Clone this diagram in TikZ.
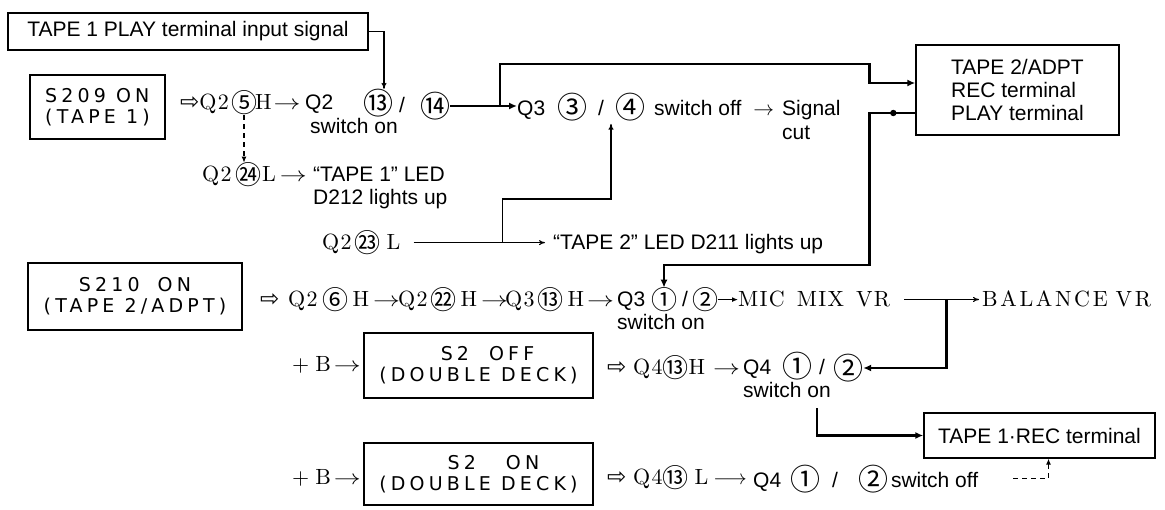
\documentclass[tikz,border=0pt]{standalone}
\usepackage{fontspec}
\usetikzlibrary{arrows.meta}

\newfontfamily\sansf{Liberation Sans}
\newfontfamily\gothf[LetterSpace=22]{DejaVu Sans}
\newfontfamily\serf[Extension=.otf,LetterSpace=6]{lmroman10-regular}
\newfontfamily\wserf[Extension=.otf,LetterSpace=12]{lmroman10-regular}
\newfontfamily\cjkf{Noto Sans CJK JP}
\newfontfamily\dvf{DejaVu Sans}

\newcommand\txtsans{\sansf\fontsize{21}{23}\selectfont}
\newcommand\txtgoth{\gothf\fontsize{19}{21}\selectfont}
\newcommand\txtser{\serf\fontsize{22}{24}\selectfont}
\newcommand\txtwide{\wserf\fontsize{22}{24}\selectfont}
\newcommand\cnum[1]{\raisebox{-2.5pt}{\cjkf\fontsize{26}{26}\selectfont #1}}
\newcommand\cnumb[1]{\raisebox{-3pt}{\cjkf\fontsize{30}{30}\selectfont #1}}
\newcommand\dra{{\dvf\fontsize{23}{23}\selectfont ⇨}}
\newcommand\sra{\scalebox{1.3}[1]{$\rightarrow$}}

\begin{document}
\begin{tikzpicture}[x=1pt, y=-1pt,
  frame/.style={draw, line width=1.4pt, inner sep=0pt},
  txt/.style={anchor=base west, inner sep=0pt},
  cn/.style={inner sep=0pt},
  wire/.style={line width=1.1pt, -{To[length=6pt,width=5pt]}},
  heavy/.style={line width=2.4pt, -{Latex[length=8pt,width=7pt]}},
  dashwire/.style={line width=1.1pt, dash pattern=on 5pt off 4pt, -{Latex[length=6pt,width=5pt]}}]

\useasboundingbox (0,0) rectangle (1165,510);

% boxes
\node[frame, minimum width=360, minimum height=37, font=\txtsans] (t1play) at (188,31.5) {TAPE 1 PLAY terminal input signal};
\node[frame, minimum width=135, minimum height=64, font=\txtgoth, align=left] (s209) at (97.5,107) {S209\hspace{10pt}ON\\(TAPE 1)};
\node[frame, minimum width=203, minimum height=90, font=\txtsans, align=left] (tape2) at (1017.5,90) {TAPE 2/ADPT\\REC terminal\\PLAY terminal};
\node[frame, minimum width=214, minimum height=67, font=\txtgoth, align=center] (s210) at (135,296.5) {S210\hspace{18pt}ON\\(TAPE 2/ADPT)};
\node[frame, minimum width=229, minimum height=65, font=\txtgoth, align=center] (s2off) at (478.5,365.5) {\hspace{18pt}S2\hspace{20pt}OFF\\(DOUBLE DECK)};
\node[frame, minimum width=229, minimum height=62, font=\txtgoth, align=center] (s2on) at (478.5,474) {\hspace{30pt}S2\hspace{30pt}ON\\(DOUBLE DECK)};
\node[frame, minimum width=231, minimum height=45, font=\txtsans] (t1rec) at (1039.5,435.5) {TAPE 1·REC terminal};

% S209 row
\node[txt, font=\txtser] (r1a) at (180,110) {\dra Q2};
\node[cn] (c5) at (244,103) {\cnum{⑤}};
\node[txt, font=\txtser] (r1b) at (255,110) {H\hspace{2pt}\sra};
\node[txt, font=\txtsans] (q2b) at (305,110) {Q2};
\node[cn] (c13) at (378,103) {\cnumb{⑬}};
\node[cn, font=\txtsans] (sl13) at (402,105) {/};
\node[cn] (c14) at (435,106) {\cnumb{⑭}};
\node[txt, font=\txtsans] (sw1) at (310,134) {switch on};

\node[txt, font=\txtsans] (q3) at (517,116) {Q3\hspace{12pt}\cnumb{③}};
\node[cn, font=\txtsans] (sl34) at (601,108) {/};
\node[txt, font=\txtsans] (r2b) at (615,116) {\cnumb{④}\hspace{9pt}switch off\hspace{12pt}$\rightarrow$};
\node[txt, font=\txtsans] (sig) at (782,116) {Signal};
\node[txt, font=\txtsans] (cut) at (782,140) {cut};

\node[txt, font=\txtser] (q2l) at (202,182) {Q2};
\node[cn] (c24) at (248,175) {\cnum{㉔}};
\node[txt, font=\txtser] (r24) at (262,182) {L\hspace{4pt}\sra};
\node[txt, font=\txtsans] (led1) at (313,182) {“TAPE 1” LED};
\node[txt, font=\txtsans] (led1b) at (313,205) {D212 lights up};

\node[txt, font=\txtser] (q223) at (322,250) {Q2\hspace{3pt}\cnum{㉓}\hspace{6pt}L};
\node[txt, font=\txtsans] (led2) at (553,250) {“TAPE 2” LED D211 lights up};

% S210 row
\node[txt, font=\txtser] (g3a) at (260,307) {\dra};
\node[txt, font=\txtser] (g3b) at (288,307) {Q2\hspace{5pt}\cnum{⑥}\hspace{4pt}H\hspace{4pt}\sra};
\node[txt, font=\txtser] (g3c) at (398,307) {Q2\hspace{3pt}\cnum{㉒}\hspace{4pt}H\hspace{4pt}\sra};
\node[txt, font=\txtser] (g3d) at (505,307) {Q3\hspace{3pt}\cnum{⑬}\hspace{4pt}H\hspace{3pt}\sra};
\node[txt, font=\txtsans] (q3b) at (617,307) {Q3};
\node[cn] (c1q3) at (664,300) {\cnum{①}};
\node[txt, font=\txtsans] (r3c) at (682,307) {/\hspace{4pt}\cnum{②}};
\node[txt, font=\txtser] (mic) at (738,307) {MIC\hspace{12pt}MIX\hspace{12pt}VR};
\node[txt, font=\txtwide] (bal) at (982,307) {BALANCE\hspace{8pt}VR};
\node[txt, font=\txtsans] (sw3) at (617,330) {switch on};

% S2 OFF row
\node[txt, font=\txtser] (pb1) at (292,372) {+\hspace{6pt}B\hspace{3pt}\sra};
\node[txt, font=\txtser] (r4a) at (607,375) {\dra};
\node[txt, font=\txtser] (r4b) at (633,375) {Q4\cnum{⑬}H\hspace{8pt}\sra};
\node[txt, font=\txtsans] (q4a) at (743,375) {Q4\hspace{11pt}\cnumb{①}\hspace{7pt}/};
\node[cn] (c2q4) at (848,368) {\cnumb{②}};
\node[txt, font=\txtsans] (sw4) at (743,398) {switch on};

% S2 ON row
\node[txt, font=\txtser] (pb2) at (292,484) {+\hspace{6pt}B\hspace{3pt}\sra};
\node[txt, font=\txtser] (r5a) at (607,485) {\dra};
\node[txt, font=\txtser] (r5b) at (633,485) {Q4\cnum{⑬}\hspace{6pt}L\hspace{5pt}$\longrightarrow$};
\node[txt, font=\txtsans] (r5c) at (753,487) {Q4\hspace{9pt}\cnumb{①}\hspace{12pt}/\hspace{20pt}\cnumb{②}\hspace{3pt}switch off};

% connectors
\coordinate (j1) at (500,106);
\coordinate (j2) at ([xshift=102]q223.east);
\coordinate (k2) at (611,199);

\draw[wire] (t1play.east) -| ([xshift=6]c13.north);
\draw[dashwire] (c5.south) -- (c5.south |- c24.north);
\draw[heavy] (c14.east) -- (c14.east -| q3.west);
\draw[heavy] (j1) |- ([xshift=-46,yshift=-20]tape2.north west) |- ([yshift=7]tape2.west);
\draw[heavy] ([yshift=-23]tape2.west) -- ++(-46,0) -- ++(0,152) -| (c1q3.north);
\fill ([xshift=-22,yshift=-23]tape2.west) circle (3.2);
\draw[wire] ([xshift=13]q223.east) -- ([xshift=-8]q223.east -| led2.west);
\draw[wire] (j2) |- (k2) -- ([yshift=-8]k2 |- sl34.south);
\draw[line width=1.6pt, -{Latex[length=6pt,width=5pt]}] (r3c.east) -- (r3c.east -| mic.west);
\draw[wire] ([xshift=14]mic.east) -- ([xshift=-3]mic.east -| bal.west);
\draw[heavy] ([xshift=56]mic.east) |- (c2q4.east);
\draw[heavy] ([xshift=30,yshift=-10]sw4.south) |- (t1rec.west);
\draw[dashwire] ([xshift=35]r5c.east) -| ([xshift=9]t1rec.south);

\end{tikzpicture}
\end{document}
